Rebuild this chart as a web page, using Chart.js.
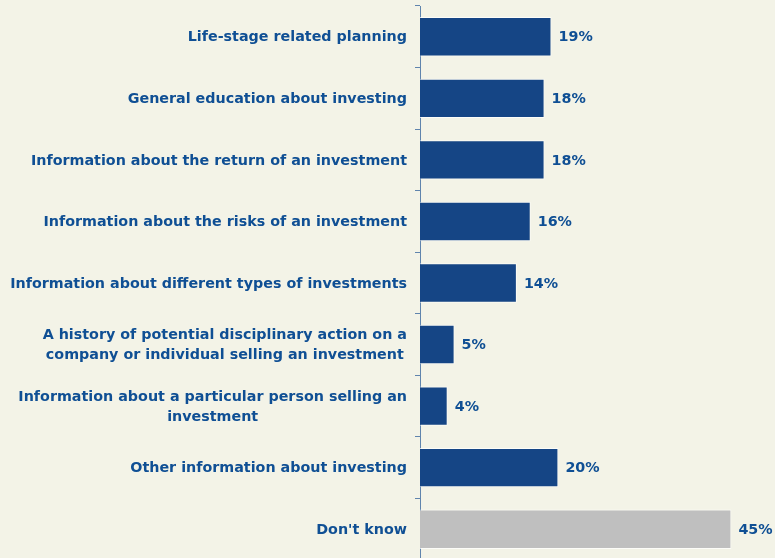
<!DOCTYPE html>
<html>
<head>
<meta charset="utf-8">
<script src="https://cdn.jsdelivr.net/npm/chart.js@4/dist/chart.umd.min.js"></script>
<style>
  html, body { margin: 0; padding: 0; background: #f3f3e7; overflow: hidden; }
  #wrap { width: 775px; height: 560px; position: relative; }
</style>
</head>
<body>
<div id="wrap"><canvas id="myChart"></canvas></div>
<script>
// data
var categories = [
    ['Life-stage related planning'],
    ['General education about investing'],
    ['Information about the return of an investment'],
    ['Information about the risks of an investment'],
    ['Information about different types of investments'],
    ['A history of potential disciplinary action on a', 'company or individual selling an investment'],
    ['Information about a particular person selling an', 'investment'],
    ['Other information about investing'],
    ["Don't know"]
];
var values = [19, 18, 18, 16, 14, 5, 4, 20, 45];
var barColors = ['#154585', '#154585', '#154585', '#154585', '#154585', '#154585', '#154585', '#154585', '#bfbfbf'];

var textColor = '#0f4f94';
var labelFont = 'bold 14.3px "DejaVu Sans", Verdana, sans-serif';

// category labels, each line centred on the block, block right-aligned to the axis
var categoryLabels = {
    id: 'categoryLabels',
    afterDraw: function(chart) {
        var ctx = chart.ctx;
        var yScale = chart.scales.y;
        var right = chart.chartArea.left - 13;
        var lineH = 20;
        ctx.save();
        ctx.font = labelFont;
        ctx.fillStyle = textColor;
        ctx.textAlign = 'center';
        ctx.textBaseline = 'middle';
        categories.forEach(function(lines, i) {
            var y = yScale.getPixelForValue(i) + 1;
            var maxW = 0;
            lines.forEach(function(l) { maxW = Math.max(maxW, ctx.measureText(l).width); });
            var cx = right - maxW / 2;
            var y0 = y - (lines.length - 1) * lineH / 2;
            lines.forEach(function(l, k) { ctx.fillText(l, cx, y0 + k * lineH); });
        });
        ctx.restore();
    }
};

// percentage labels at the end of each bar
var valueLabels = {
    id: 'valueLabels',
    afterDatasetsDraw: function(chart) {
        var ctx = chart.ctx;
        var meta = chart.getDatasetMeta(0);
        ctx.save();
        ctx.font = labelFont;
        ctx.fillStyle = textColor;
        ctx.textAlign = 'left';
        ctx.textBaseline = 'middle';
        meta.data.forEach(function(bar, i) {
            ctx.fillText(values[i] + '%', bar.x + 7, bar.y + 1);
        });
        ctx.restore();
    }
};

var ctx = document.getElementById('myChart').getContext('2d');
var myChart = new Chart(ctx, {
    type: 'bar',
    data: {
        labels: categories,
        datasets: [{
            data: values,
            backgroundColor: barColors,
            borderColor: 'rgba(255,255,255,0.7)',
            borderWidth: 1,
            barPercentage: 0.64,
            categoryPercentage: 1
        }]
    },
    options: {
        indexAxis: 'y',
        responsive: true,
        maintainAspectRatio: false,
        animation: false,
        layout: { padding: { top: 6, right: 9, bottom: 0, left: 0 } },
        plugins: {
            legend: { display: false },
            tooltip: { enabled: false }
        },
        scales: {
            x: {
                display: false,
                min: 0,
                max: 50
            },
            y: {
                offset: true,
                afterFit: function(scale) { scale.width = 420; },
                ticks: { display: false },
                grid: {
                    offset: true,
                    drawOnChartArea: false,
                    drawTicks: true,
                    tickLength: 5,
                    color: '#5f84ad'
                },
                border: { color: '#5f84ad', width: 1 }
            }
        }
    },
    plugins: [categoryLabels, valueLabels]
});
</script>
</body>
</html>
